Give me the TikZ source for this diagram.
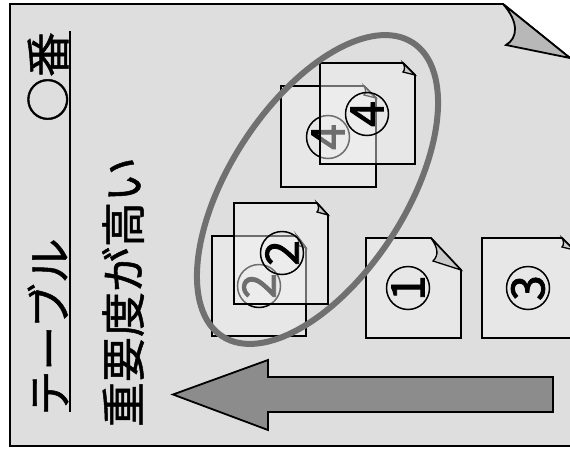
\documentclass[tikz,border=0pt]{standalone}
\usepackage{fontspec}
\newfontfamily\cjk[FakeBold=1.1]{Noto Sans CJK JP}
\newfontfamily\cjkdigit[FakeBold=1.8]{Noto Sans CJK JP}
\usetikzlibrary{shapes.geometric}
\definecolor{pagegray}{HTML}{DEDEDE}
\definecolor{docgray}{HTML}{F4F4F4}
\definecolor{curlgray}{HTML}{B8B8B8}
\definecolor{arrowgray}{HTML}{8C8C8C}
\definecolor{ringgray}{HTML}{707070}
\tikzset{
	sheet/.style={draw=black,line width=1.8pt,fill=pagegray},
	doc/.style={draw=black,line width=1.8pt,fill=docgray,fill opacity=.45},
	fold/.style={draw=black,line width=1.3pt,fill=curlgray,fill opacity=.6},
	num/.style={circle,draw=black,line width=1.5pt,minimum size=43pt,inner sep=0pt,rotate=90,font=\cjkdigit\fontsize{46}{46}\selectfont},
	title/.style={inner sep=0pt,rotate=90,font=\cjk\fontsize{45}{45}\selectfont}
}

\begin{document}
\begin{tikzpicture}[x=1pt,y=-1pt]
		\useasboundingbox (0,0) rectangle (570,458);
		\clip (0,0) rectangle (570,458);
		
		% sheet
		\draw[sheet] (10,4) -- (503,4) -- (570,58) -- (580,58) -- (580,446) -- (10,446) -- cycle;
		\draw[sheet,fill=curlgray] (503,4) .. controls (519,22) and (518,38) .. (506,45) -- (570,58) -- cycle;
		
		% titles
		\coordinate (lineA) at (70,31);
		\coordinate (lineB) at (70,412);
		\draw[line width=2.6pt] (lineA) -- (lineB);
		\node[title] (table) at (48,327) {テーブル};
		\node[title] (rank) at (48,77) {○番};
		\node[title] (high) at (123,292) {重要度が高い};
		
		% arrow
		\draw[draw=black,line width=1.8pt,fill=arrowgray] (173,394.5) -- (268,360) -- (268,377) -- (553,377) -- (553,412) -- (268,412) -- (268,430) -- cycle;
		
		% documents 1 and 3
		\draw[doc] (366,238) -- (431,238) -- (461,270) -- (461,338) -- (366,338) -- cycle;
		\draw[fold] (431,238) .. controls (438,248) and (439,255) .. (433,261) -- (461,270) -- cycle;
		\node[num] (one) at (408,288) {1};
		\draw[doc] (482,238) -- (562,238) -- (574,250) -- (574,338) -- (482,338) -- cycle;
		\draw[fold] (562,238) .. controls (564,241) and (564,245) .. (562,247) -- (574,250) -- cycle;
		\node[num] (three) at (528,288) {3};
		
		% documents 2
		\draw[doc] (212,236) -- (297,236) -- (306,248) -- (306,336) -- (212,336) -- cycle;
		\draw[fold] (297,236) .. controls (299,239) and (299,243) .. (297,245) -- (306,248) -- cycle;
		\node[num] (twoB) at (259,286) {2};
		\draw[doc] (234,203) -- (317,203) -- (328,215) -- (328,304) -- (234,304) -- cycle;
		\draw[fold] (317,203) .. controls (319,206) and (319,210) .. (317,212) -- (328,215) -- cycle;
		\node[num] (twoA) at (282,253) {2};
		
		% documents 4
		\draw[doc] (281,86) -- (364,86) -- (376,98) -- (376,187) -- (281,187) -- cycle;
		\draw[fold] (364,86) .. controls (366,89) and (366,93) .. (364,95) -- (376,98) -- cycle;
		\node[num] (fourB) at (328,137) {4};
		\draw[doc] (320,63) -- (403,63) -- (415,75) -- (415,164) -- (320,164) -- cycle;
		\draw[fold] (403,63) .. controls (405,66) and (405,70) .. (403,72) -- (415,75) -- cycle;
		\node[num] (fourA) at (367,114) {4};
		
		% ring
		\node[ellipse,draw=ringgray,line width=6pt,minimum width=350pt,minimum height=176pt,inner sep=0pt,rotate=57] (ring) at (317.5,189.5) {};
\end{tikzpicture}
\end{document}
